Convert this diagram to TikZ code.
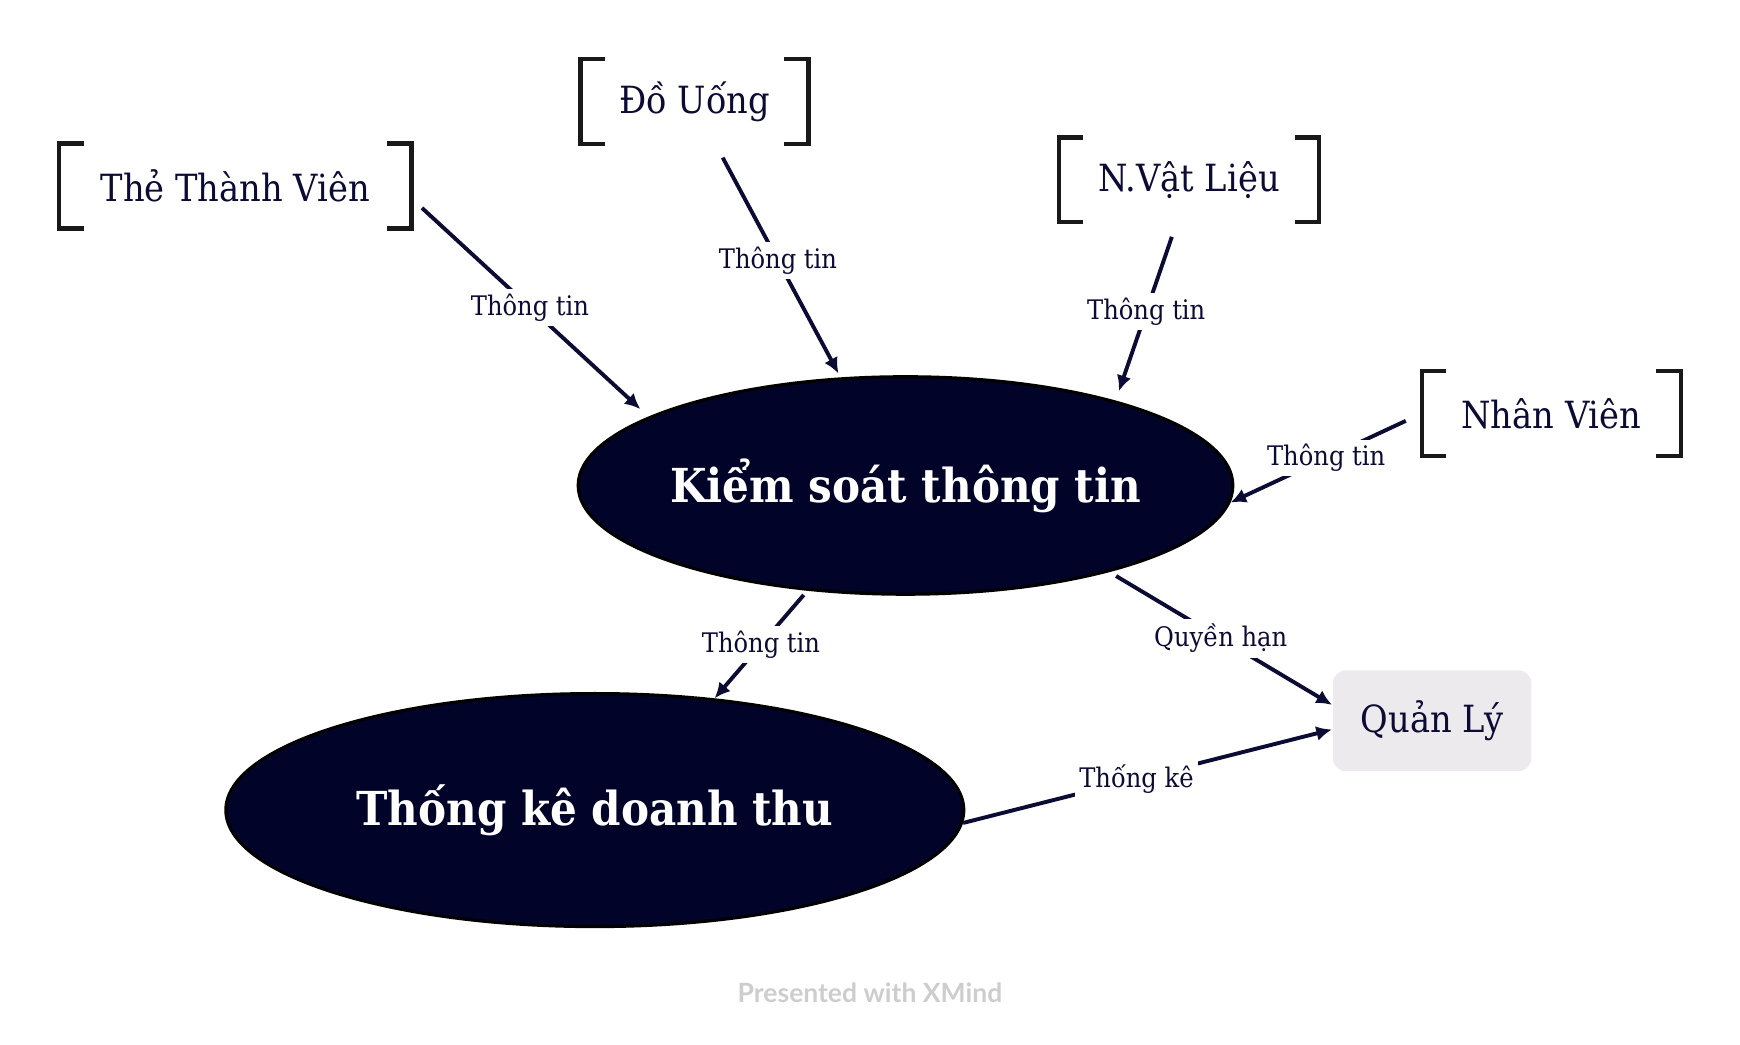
\documentclass[tikz,border=0pt]{standalone}
\usepackage{fontspec}
\setmainfont{DejaVu Serif}[FakeStretch=0.9]
\newfontfamily\brandfont{Lato}
\usepackage{tikz}
\usetikzlibrary{shapes.geometric,arrows.meta}
\definecolor{inknavy}{HTML}{0B0B33}
\definecolor{ovalfill}{HTML}{010328}
\definecolor{boxgray}{HTML}{ECEAED}
\definecolor{brandgray}{HTML}{CDCDCD}
\tikzset{
  bracketbox/.style={rectangle, minimum height=0.75cm, inner sep=0pt, text=inknavy, font=\fontsize{9.6}{11}\selectfont},
  bracketline/.style={draw=black!90, line width=1.15pt, line cap=rect},
  oval/.style={ellipse, draw=black, line width=0.8pt, fill=ovalfill, text=white, inner ysep=0pt, inner xsep=-1cm, font=\bfseries\fontsize{12}{14}\selectfont},
  rolebox/.style={rectangle, rounded corners=0.12cm, fill=boxgray, text=inknavy, minimum width=1.79cm, minimum height=0.91cm, font=\fontsize{9.6}{11}\selectfont},
  flow/.style={draw=inknavy, line width=1pt, -{Latex[length=4pt,width=3.8pt]}},
  flowlabel/.style={fill=white, inner sep=1.2pt, text=inknavy, font=\fontsize{6.9}{8}\selectfont},
}
\newcommand{\bracketnode}[4] {\node at (#1) (#2) [bracketbox, minimum width=#3] {#4};
  \draw [bracketline] ([xshift=0.2cm]#2.north west) -- (#2.north west) -- (#2.south west) -- ++(0.2,0);
  \draw [bracketline] ([xshift=-0.2cm]#2.north east) -- (#2.north east) -- (#2.south east) -- ++(-0.2,0);}
\newcommand{\flowarrow}[4][] {\draw [flow, #1] (#2) -- (#3) node [midway, flowlabel] {#4};}

\begin{document}
\begin{tikzpicture}
\useasboundingbox (0,0) rectangle (15.68,9.41);

\bracketnode {2.12,7.735}{member}{3.16cm}{Thẻ Thành Viên}
\bracketnode {6.26,8.495}{drink}{2.04cm}{Đồ Uống}
\bracketnode {10.715,7.79}{material}{2.33cm}{N.Vật Liệu}
\bracketnode {13.98,5.685}{staff}{2.32cm}{Nhân Viên}

\node at (8.16,5.035) (control) [oval, minimum width=5.9cm, minimum height=1.96cm] {Kiểm soát thông tin};
\node at (5.36,2.11) (revenue) [oval, minimum width=6.65cm, minimum height=2.1cm] {Thống kê doanh thu};
\node at (12.905,2.915) (manager) [rolebox] {Quản Lý};

% the starts stay clear of the brackets
\flowarrow [shorten <=0.13cm, shorten >=0.1cm] {member.-4}{control.165.3}{Thông tin}
\flowarrow [shorten <=0.14cm, shorten >=0.04cm] {drink.-64.5}{control.121.3}{Thông tin}
\flowarrow [shorten <=0.14cm, shorten >=0.09cm] {material.-106.7}{control.22.3}{Thông tin}
\flowarrow [shorten <=0.16cm] {staff.180}{control.-3.2}{Thông tin}
\flowarrow [shorten <=0.05cm] {control.-133.4}{revenue.43.9}{Thông tin}
\flowarrow [shorten <=0.07cm] {control.-23}{manager.171.4}{Quyền hạn}
\draw [flow] (revenue.-2.1) -- (manager.-175.6) node [pos=0.47, flowlabel] {Thống kê};

\node at (7.84,0.46) (brand) [text=brandgray, font=\brandfont\bfseries\fontsize{6.8}{8}\selectfont] {Presented with XMind};

\end{tikzpicture}
\end{document}
